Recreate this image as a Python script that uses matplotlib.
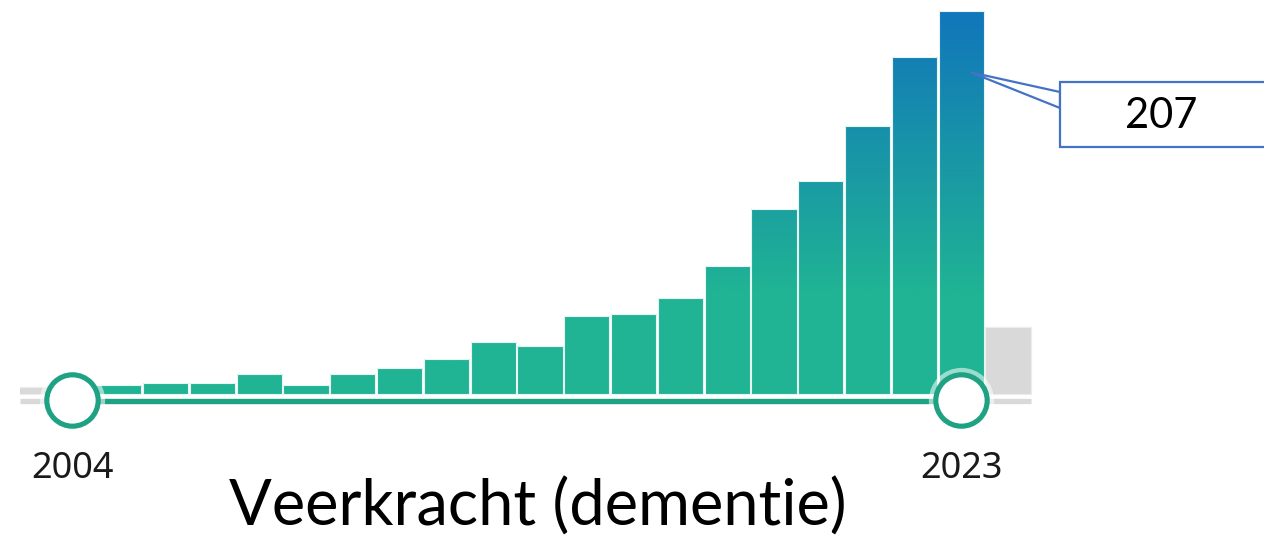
import numpy as np
import matplotlib
matplotlib.use("Agg")
import matplotlib.pyplot as plt
from matplotlib.colors import LinearSegmentedColormap
from matplotlib.patches import Rectangle, Polygon

W, H = 1264, 539

years = list(range(2003, 2025))
counts = [4, 4, 5, 6, 6, 11, 5, 11, 14, 19, 28, 26, 42, 43, 52, 69, 100, 115, 145, 182, 207, 36]
sel_start, sel_end = 2004, 2023
title = "Veerkracht (dementie)"

TEAL = "#20b394"
BLUE = "#1176bb"
RING = "#1ea283"
GREY = "#d9d9d9"
BOX_EDGE = "#4472c4"

fig = plt.figure(figsize=(W / 100, H / 100), dpi=100)
# axes start at pixel 20 from the left (widget is cropped there)
ax = fig.add_axes([20 / W, 0, (W - 20) / W, 1])
px_per_year = 46.8
px_per_unit = 383 / 207
x0 = sel_start - (72 - 20) / px_per_year
ax.set_xlim(x0, x0 + (W - 20) / px_per_year)
ax.set_ylim(-(H - 394) / px_per_unit, 394 / px_per_unit)
ax.axis("off")

cmap = LinearSegmentedColormap.from_list("tb", [(0, TEAL), (0.27, TEAL), (1, BLUE)], N=256)
grad = np.linspace(0, 1, 256).reshape(-1, 1)
ymax = max(counts)

for yr, c in zip(years, counts):
    inside = sel_start <= yr <= sel_end
    if inside:
        rect = Rectangle((yr - 0.485, 0), 0.97, c, facecolor="none",
                         edgecolor="#e6f5f1", linewidth=0.8, zorder=3)
        ax.add_patch(rect)
        im = ax.imshow(grad, cmap=cmap, origin="lower", aspect="auto",
                       extent=(yr - 0.5, yr + 0.5, 0, ymax), zorder=2,
                       interpolation="bilinear")
        im.set_clip_path(rect)
    else:
        ax.bar(yr, c, width=0.97, color=GREY, edgecolor="#ececec",
               linewidth=0.8, zorder=2)

# slider track
track_y = -7 / px_per_unit
ax.plot([x0, years[-1] + 0.5], [track_y, track_y], color=GREY, lw=3.8,
        solid_capstyle="butt", zorder=4)
ax.plot([sel_start, sel_end], [track_y, track_y], color=RING, lw=3.8,
        solid_capstyle="butt", zorder=5)

# handles
hy = -6 / px_per_unit
for yr in (sel_start, sel_end):
    ax.plot(yr, hy, marker="o", ms=47, mfc="white", mec="none", alpha=0.55, zorder=6)
    ax.plot(yr, hy, marker="o", ms=37, mfc="white", mec=RING, mew=3.7, zorder=7)
    ax.text(yr, -75 / px_per_unit, str(yr), ha="center", va="center",
            fontsize=26, family=["Noto Sans", "DejaVu Sans"], color="#1a1a1a")

# title
fig.text(538 / W, 1 - 507 / H, title, ha="center", va="center", fontsize=45.5,
         family=["Lato", "DejaVu Sans"], color="black")

# callout for the last selected year
last = counts[years.index(sel_end)]
tip = ax.transData.transform((sel_end + 0.2, last * 0.84))
tip = fig.transFigure.inverted().transform(tip)


def fp(x, y):
    return (x / W, 1 - y / H)


wedge = Polygon([tip, fp(1060, 92), fp(1060, 108)], closed=True, facecolor="white",
                edgecolor=BOX_EDGE, linewidth=1.6, transform=fig.transFigure, zorder=8)
fig.add_artist(wedge)
box = Rectangle(fp(1060, 147), 260 / W, 65 / H, facecolor="white", edgecolor=BOX_EDGE,
                linewidth=1.6, transform=fig.transFigure, zorder=9)
fig.add_artist(box)
fig.text(1161 / W, 1 - 116 / H, str(last), ha="center", va="center", fontsize=30,
         family=["Lato", "DejaVu Sans"], color="black", zorder=10)

fig.savefig("out.png", dpi=100)
